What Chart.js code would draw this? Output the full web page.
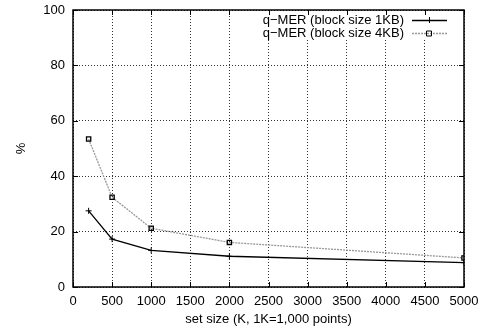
<!DOCTYPE html>
<html>
<head>
<meta charset="utf-8">
<script src="https://cdn.jsdelivr.net/npm/chart.js@4/dist/chart.umd.min.js"></script>
<style>
  html, body { margin: 0; padding: 0; background: #fff; }
  #wrap { width: 480px; height: 333px; }
</style>
</head>
<body>
<div id="wrap"><canvas id="chart"></canvas></div>
<script>
const setSizes = [200, 500, 1000, 2000, 5000];
const mer1KB = [27.5, 17.3, 13.2, 11.1, 8.8];
const mer4KB = [53.4, 32.4, 21.2, 16.1, 10.5];
const seriesNames = ['q\u2212MER (block size 1KB)', 'q\u2212MER (block size 4KB)'];

const FONT = 'Liberation Sans, Arial, Helvetica, sans-serif';
const FSIZE = 13;

function pts(xs, ys) {
  return xs.map((x, i) => ({ x: x, y: ys[i] }));
}

// frame, inner tick marks and gnuplot-style legend (key box masks the grid)
const framePlugin = {
  id: 'frame',
  beforeDatasetsDraw(chart) {
    const ctx = chart.ctx;
    const a = chart.chartArea;
    ctx.save();
    ctx.font = FSIZE + 'px ' + FONT;
    const w = Math.max(...chart.data.datasets.map(ds => ctx.measureText(ds.label).width));
    const left = a.right - 60 - w - 5;
    ctx.fillStyle = '#fff';
    ctx.fillRect(left, a.top + 1, a.right - 1 - left, 28);
    ctx.restore();
  },
  afterDraw(chart) {
    const ctx = chart.ctx;
    const a = chart.chartArea;
    const xs = chart.scales.x, ys = chart.scales.y;
    ctx.save();
    ctx.strokeStyle = '#000';
    ctx.lineWidth = 1;
    ctx.setLineDash([]);
    ctx.beginPath();
    xs.ticks.forEach(t => {
      const px = Math.round(xs.getPixelForValue(t.value)) + 0.5;
      ctx.moveTo(px, a.bottom); ctx.lineTo(px, a.bottom - 5);
      ctx.moveTo(px, a.top); ctx.lineTo(px, a.top + 5);
    });
    ys.ticks.forEach(t => {
      const py = Math.round(ys.getPixelForValue(t.value)) + 0.5;
      ctx.moveTo(a.left, py); ctx.lineTo(a.left + 5, py);
      ctx.moveTo(a.right, py); ctx.lineTo(a.right - 5, py);
    });
    ctx.stroke();
    ctx.lineWidth = 1.5;
    ctx.strokeRect(a.left, a.top, a.right - a.left, a.bottom - a.top);

    // legend
    ctx.font = FSIZE + 'px ' + FONT;
    ctx.textAlign = 'right';
    ctx.textBaseline = 'middle';
    const textRight = a.right - 60;
    const lx0 = a.right - 52, lx1 = a.right - 17, lmid = a.right - 35;
    chart.data.datasets.forEach((ds, i) => {
      const y = a.top + 10 + i * 13;
      ctx.fillStyle = '#000';
      ctx.fillText(ds.label, textRight, y);
      ctx.strokeStyle = ds.borderColor;
      ctx.lineWidth = ds.borderWidth;
      ctx.setLineDash(ds.borderDash || []);
      ctx.beginPath();
      ctx.moveTo(lx0, y + 0.5); ctx.lineTo(lx1, y + 0.5);
      ctx.stroke();
      ctx.setLineDash([]);
      ctx.strokeStyle = '#000';
      ctx.lineWidth = 1;
      ctx.beginPath();
      if (ds.pointStyle === 'cross') {
        ctx.moveTo(lmid - 3, y + 0.5); ctx.lineTo(lmid + 3, y + 0.5);
        ctx.moveTo(lmid + 0.5, y - 3); ctx.lineTo(lmid + 0.5, y + 3);
      } else {
        ctx.rect(lmid - 2.5, y - 2, 5, 5);
      }
      ctx.stroke();
    });
    ctx.restore();
  }
};

new Chart(document.getElementById('chart'), {
  type: 'scatter',
  data: {
    datasets: [
      {
        label: seriesNames[0],
        data: pts(setSizes, mer1KB),
        showLine: true,
        borderColor: '#000',
        borderWidth: 1.3,
        pointStyle: 'cross',
        pointRadius: 3,
        pointBorderColor: '#000',
        pointBorderWidth: 1
      },
      {
        label: seriesNames[1],
        data: pts(setSizes, mer4KB),
        showLine: true,
        borderColor: '#999',
        borderWidth: 1.3,
        borderDash: [2, 1],
        pointStyle: 'rect',
        pointRadius: 3,
        pointBackgroundColor: 'rgba(0,0,0,0)',
        pointBorderColor: '#000',
        pointBorderWidth: 1.3
      }
    ]
  },
  options: {
    responsive: true,
    maintainAspectRatio: false,
    animation: false,
    layout: { padding: { top: 10, right: 16, left: 0, bottom: 0 } },
    plugins: {
      legend: { display: false },
      tooltip: { enabled: false }
    },
    scales: {
      x: {
        type: 'linear',
        min: 0,
        max: 5000,
        afterFit(s) { s.height = 46; s.paddingLeft = 0; s.paddingRight = 0; },
        ticks: {
          stepSize: 500, color: '#000', font: { family: FONT, size: FSIZE }, padding: 7, maxRotation: 0,
          callback: v => String(v)
        },
        grid: { color: '#333', lineWidth: 1, drawTicks: false },
        border: { display: false, dash: [1, 2] },
        title: { display: true, text: 'set size (K, 1K=1,000 points)', color: '#000', font: { family: FONT, size: FSIZE }, padding: { top: 2, bottom: 6 } }
      },
      y: {
        min: 0,
        max: 100,
        afterFit(s) { s.width = 73; s.paddingTop = 0; s.paddingBottom = 0; },
        ticks: { stepSize: 20, color: '#000', font: { family: FONT, size: FSIZE }, padding: 8 },
        grid: { color: '#333', lineWidth: 1, drawTicks: false },
        border: { display: false, dash: [1, 2] },
        title: { display: true, text: '%', color: '#000', font: { family: FONT, size: FSIZE }, padding: { top: 14 } }
      }
    }
  },
  plugins: [framePlugin]
});
</script>
</body>
</html>
